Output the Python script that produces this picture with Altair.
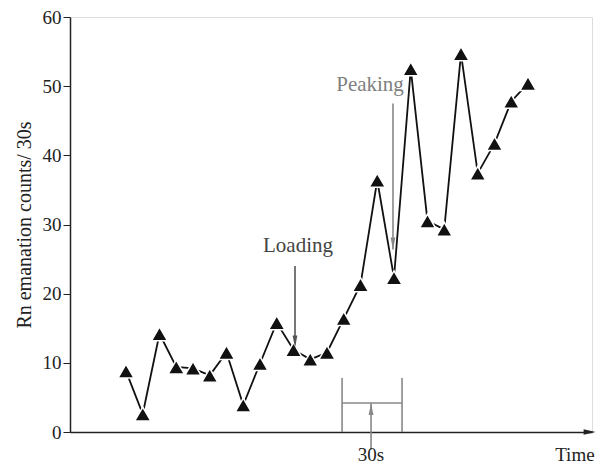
import altair as alt
import pandas as pd

# Data (counts per 30 s, sequential time index)
t_index = list(range(1, 26))
counts = [8.8, 2.6, 14.2, 9.4, 9.2, 8.2, 11.5, 3.9, 9.9, 15.8, 11.9, 10.5, 11.5,
          16.4, 21.3, 36.4, 22.3, 52.5, 30.5, 29.3, 54.7, 37.4, 41.7, 47.8, 50.4]

y_ticks = [0, 5, 10, 15, 20, 25, 30, 35, 40, 45, 50, 55, 60]

# annotation anchor positions (in data units)
seg_x = [11.09, 16.94, 13.9, 17.48, 13.9, 15.63]
seg_x2 = [11.09, 16.94, 13.9, 17.48, 17.48, 15.63]
seg_y = [24.0, 47.5, 7.8, 7.8, 4.2, -2.6]
seg_y2 = [12.2, 26.4, 0.0, 0.0, 4.2, 4.2]
seg_col = ["#555555", "#888888", "#888888", "#888888", "#888888", "#888888"]

text_labels = ["Loading", "Peaking", "30s", "Time"]
text_x = [11.27, 15.57, 15.63, 27.8]
text_y = [26.9, 50.2, -3.3, -3.3]
text_size = [21, 21, 19, 19]
text_col = ["#444444", "#808080", "#222222", "#222222"]

XMIN, XMAX = -2.343, 28.821
FONT = "Liberation Serif"

df = pd.DataFrame({"t": t_index, "v": counts})
seg = pd.DataFrame({"x": seg_x, "x2": seg_x2, "y": seg_y, "y2": seg_y2, "c": seg_col})
txt = pd.DataFrame({"x": text_x, "y": text_y, "label": text_labels, "c": text_col,
                    "s": text_size})

xs = alt.Scale(domain=[XMIN, XMAX], nice=False, zero=False)
ys = alt.Scale(domain=[0, 60], nice=False, zero=False)

base = alt.Chart(df)

line = base.mark_line(color="#111111", strokeWidth=1.8).encode(
    x=alt.X("t:Q", scale=xs,
            axis=alt.Axis(title=None, labels=False, ticks=False, grid=False,
                          domainColor="#222222", domainWidth=1.5)),
    y=alt.Y("v:Q", scale=ys,
            axis=alt.Axis(title="Rn emanation counts/ 30s", values=y_ticks, grid=False,
                          labelExpr="datum.value % 10 === 0 ? datum.label : ''",
                          tickSize={"condition": {"test": "datum.value % 10 === 0", "value": 7}, "value": 4},
                          tickColor="#222222", domainColor="#222222", domainWidth=1.5,
                          labelFont=FONT, labelFontSize=19, labelColor="#222222",
                          labelPadding=2,
                          titleFont=FONT, titleFontSize=20, titleFontWeight="normal",
                          titleColor="#222222", titlePadding=8)),
)

pts = base.mark_point(shape="triangle-up", filled=True, fill="#111111", size=260,
                      stroke="white", strokeWidth=1.5, opacity=1).encode(
    x=alt.X("t:Q", scale=xs), y=alt.Y("v:Q", scale=ys))

segs = alt.Chart(seg).mark_rule(strokeWidth=1.6, clip=False).encode(
    x=alt.X("x:Q", scale=xs), x2="x2:Q",
    y=alt.Y("y:Q", scale=ys), y2="y2:Q",
    color=alt.Color("c:N", scale=None))

# arrow heads (tip at the path origin)
down_path = "M-0.4,-2L0.4,-2L0,0Z"
up_path = "M-0.4,2L0.4,2L0,0Z"
heads_down = alt.Chart(seg.iloc[0:2]).mark_point(shape=down_path, filled=True, size=144,
                                                 opacity=1, clip=False).encode(
    x=alt.X("x:Q", scale=xs), y=alt.Y("y2:Q", scale=ys),
    fill=alt.Color("c:N", scale=None))
heads_up = alt.Chart(seg.iloc[5:6]).mark_point(shape=up_path, filled=True, size=144,
                                               opacity=1, clip=False).encode(
    x=alt.X("x:Q", scale=xs), y=alt.Y("y2:Q", scale=ys),
    fill=alt.Color("c:N", scale=None))

axis_head = alt.Chart(pd.DataFrame({"x": [XMAX], "y": [0]})).mark_point(
    shape="M0.6,0L-1.4,-0.45L-1.4,0.45Z", filled=True, size=144, fill="#222222",
    opacity=1, clip=False).encode(
    x=alt.X("x:Q", scale=xs), y=alt.Y("y:Q", scale=ys))

texts = alt.Chart(txt).mark_text(font=FONT, align="center",
                                 baseline="middle", clip=False).encode(
    x=alt.X("x:Q", scale=xs), y=alt.Y("y:Q", scale=ys), text="label:N",
    size=alt.Size("s:Q", scale=None),
    color=alt.Color("c:N", scale=None))

chart = alt.layer(segs, line, pts, heads_down, heads_up, axis_head, texts).properties(
    width=522, height=415,
    autosize=alt.AutoSizeParams(type="none"),
    padding={"left": 62, "top": 9, "right": 6, "bottom": 34},
).configure_view(stroke=None).configure(background="white")

chart.save("out.html", embed_options={"renderer": "svg", "actions": False})
